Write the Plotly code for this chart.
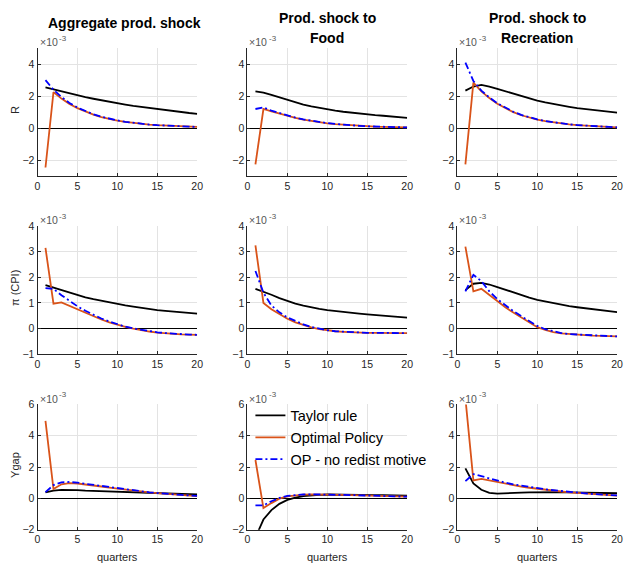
import plotly.graph_objects as go

# ---------------- data (values in units of 1e-3) ----------------
quarters = list(range(1, 21))
shock_titles = [["Aggregate prod. shock"], ["Prod. shock to", "Food"], ["Prod. shock to", "Recreation"]]
var_labels = ["R", "π (CPI)", "Ygap"]
series_names = ["Taylor rule", "Optimal Policy", "OP - no redist motive"]
x_ticks = [0, 5, 10, 15, 20]
row_ranges = [[-3, 5], [-1, 4], [-2, 6]]
row_ticks = [[-2, 0, 2, 4], [-1, 0, 1, 2, 3, 4], [-2, 0, 2, 4, 6]]

# Row 1: R
R_agg_taylor = [2.55, 2.42, 2.29, 2.17, 2.05, 1.94, 1.84, 1.74, 1.65, 1.56, 1.48, 1.40, 1.33, 1.26, 1.19, 1.13, 1.07, 1.01, 0.95, 0.90]
R_agg_opt = [-2.45, 2.25, 1.85, 1.52, 1.25, 1.03, 0.85, 0.70, 0.58, 0.48, 0.40, 0.33, 0.27, 0.23, 0.19, 0.16, 0.13, 0.11, 0.09, 0.08]
R_agg_nored = [3.0, 2.4, 1.95, 1.58, 1.29, 1.06, 0.87, 0.72, 0.59, 0.49, 0.40, 0.33, 0.28, 0.23, 0.19, 0.16, 0.13, 0.11, 0.09, 0.08]

R_food_taylor = [2.3, 2.22, 2.08, 1.92, 1.75, 1.6, 1.47, 1.36, 1.26, 1.17, 1.1, 1.03, 0.97, 0.92, 0.87, 0.82, 0.78, 0.74, 0.7, 0.65]
R_food_opt = [-2.25, 1.2, 1.05, 0.9, 0.76, 0.64, 0.54, 0.45, 0.37, 0.31, 0.26, 0.22, 0.18, 0.15, 0.12, 0.10, 0.08, 0.07, 0.06, 0.05]
R_food_nored = [1.2, 1.3, 1.1, 0.94, 0.79, 0.66, 0.55, 0.46, 0.38, 0.32, 0.27, 0.22, 0.18, 0.15, 0.12, 0.10, 0.08, 0.07, 0.06, 0.05]

R_rec_taylor = [2.35, 2.6, 2.7, 2.6, 2.45, 2.3, 2.15, 2.0, 1.86, 1.73, 1.61, 1.51, 1.42, 1.34, 1.26, 1.2, 1.14, 1.08, 1.03, 0.98]
R_rec_opt = [-2.25, 2.85, 2.3, 1.88, 1.53, 1.24, 1.0, 0.81, 0.66, 0.54, 0.44, 0.36, 0.29, 0.24, 0.19, 0.16, 0.13, 0.1, 0.08, 0.06]
R_rec_nored = [4.1, 2.95, 2.35, 1.92, 1.56, 1.27, 1.03, 0.83, 0.68, 0.55, 0.45, 0.37, 0.3, 0.24, 0.2, 0.16, 0.13, 0.1, 0.08, 0.06]

# Row 2: pi (CPI)
pi_agg_taylor = [1.7, 1.6, 1.5, 1.4, 1.3, 1.22, 1.15, 1.08, 1.01, 0.95, 0.9, 0.85, 0.8, 0.76, 0.72, 0.69, 0.66, 0.63, 0.61, 0.58]
pi_agg_opt = [3.15, 0.97, 1.02, 0.88, 0.74, 0.6, 0.47, 0.35, 0.24, 0.14, 0.06, -0.01, -0.07, -0.12, -0.16, -0.19, -0.21, -0.23, -0.24, -0.25]
pi_agg_nored = [1.58, 1.55, 1.3, 1.07, 0.87, 0.69, 0.53, 0.39, 0.27, 0.16, 0.07, 0.0, -0.06, -0.11, -0.15, -0.18, -0.21, -0.23, -0.24, -0.25]

pi_food_taylor = [1.55, 1.45, 1.32, 1.19, 1.07, 0.97, 0.89, 0.82, 0.77, 0.72, 0.68, 0.64, 0.61, 0.58, 0.55, 0.52, 0.5, 0.47, 0.45, 0.42]
pi_food_opt = [3.25, 1.0, 0.75, 0.55, 0.38, 0.24, 0.13, 0.04, -0.03, -0.08, -0.11, -0.13, -0.15, -0.16, -0.17, -0.17, -0.18, -0.18, -0.18, -0.18]
pi_food_nored = [2.25, 1.4, 0.9, 0.63, 0.43, 0.28, 0.16, 0.06, -0.02, -0.07, -0.11, -0.13, -0.15, -0.16, -0.17, -0.17, -0.18, -0.18, -0.18, -0.18]

pi_rec_taylor = [1.5, 1.75, 1.78, 1.72, 1.62, 1.51, 1.4, 1.3, 1.21, 1.12, 1.05, 0.98, 0.92, 0.87, 0.83, 0.79, 0.75, 0.71, 0.67, 0.64]
pi_rec_opt = [3.2, 1.45, 1.55, 1.3, 1.06, 0.83, 0.62, 0.43, 0.23, 0.05, -0.06, -0.14, -0.19, -0.22, -0.24, -0.26, -0.28, -0.29, -0.3, -0.31]
pi_rec_nored = [1.45, 2.1, 1.85, 1.45, 1.15, 0.9, 0.68, 0.48, 0.28, 0.1, -0.03, -0.12, -0.18, -0.22, -0.24, -0.26, -0.28, -0.29, -0.3, -0.31]

# Row 3: Ygap
y_agg_taylor = [0.38, 0.5, 0.55, 0.55, 0.53, 0.5, 0.48, 0.46, 0.44, 0.42, 0.4, 0.38, 0.36, 0.34, 0.32, 0.31, 0.29, 0.28, 0.27, 0.25]
y_agg_opt = [4.95, 0.6, 0.9, 0.97, 0.95, 0.9, 0.83, 0.76, 0.69, 0.62, 0.55, 0.49, 0.43, 0.38, 0.33, 0.29, 0.25, 0.21, 0.18, 0.15]
y_agg_nored = [0.4, 0.85, 1.02, 1.05, 1.0, 0.93, 0.86, 0.78, 0.71, 0.64, 0.57, 0.5, 0.44, 0.39, 0.34, 0.29, 0.25, 0.22, 0.19, 0.16]

y_food_taylor = [-2.5, -1.35, -0.75, -0.35, -0.1, 0.05, 0.15, 0.2, 0.23, 0.25, 0.25, 0.25, 0.24, 0.23, 0.22, 0.21, 0.2, 0.19, 0.18, 0.17]
y_food_opt = [2.45, -0.62, -0.3, -0.02, 0.13, 0.2, 0.24, 0.26, 0.26, 0.25, 0.24, 0.22, 0.21, 0.19, 0.17, 0.16, 0.14, 0.13, 0.12, 0.11]
y_food_nored = [-0.45, -0.45, -0.18, 0.03, 0.16, 0.22, 0.25, 0.26, 0.26, 0.25, 0.24, 0.22, 0.21, 0.19, 0.17, 0.16, 0.14, 0.13, 0.12, 0.11]

y_rec_taylor = [1.92, 0.95, 0.55, 0.35, 0.3, 0.31, 0.34, 0.37, 0.39, 0.4, 0.41, 0.41, 0.4, 0.39, 0.38, 0.37, 0.36, 0.35, 0.34, 0.33]
y_rec_opt = [6.4, 1.15, 1.25, 1.15, 1.02, 0.92, 0.83, 0.75, 0.68, 0.61, 0.55, 0.49, 0.44, 0.39, 0.35, 0.31, 0.27, 0.24, 0.21, 0.18]
y_rec_nored = [1.1, 1.55, 1.42, 1.27, 1.13, 1.0, 0.9, 0.81, 0.72, 0.65, 0.58, 0.52, 0.46, 0.41, 0.36, 0.32, 0.28, 0.25, 0.22, 0.19]

panels = [
    [(R_agg_taylor, R_agg_opt, R_agg_nored), (R_food_taylor, R_food_opt, R_food_nored), (R_rec_taylor, R_rec_opt, R_rec_nored)],
    [(pi_agg_taylor, pi_agg_opt, pi_agg_nored), (pi_food_taylor, pi_food_opt, pi_food_nored), (pi_rec_taylor, pi_rec_opt, pi_rec_nored)],
    [(y_agg_taylor, y_agg_opt, y_agg_nored), (y_food_taylor, y_food_opt, y_food_nored), (y_rec_taylor, y_rec_opt, y_rec_nored)],
]

# ---------------- layout / styling ----------------
W, H = 630, 569
FONT = "Liberation Sans, Arial, Helvetica, sans-serif"
AX = "#262626"
GRID = "#e3e3e3"
col_px = [(35, 197), (248, 410), (461, 623)]
row_px = [(43, 174), (225, 355.5), (407, 535)]
title_cx = [123, 329, 542]
line_styles = [
    dict(color="#000000", width=1.8),
    dict(color="#D95319", width=1.8),
    dict(color="#0000FF", width=1.8, dash="7px,3px,2px,3px"),
]

fig = go.Figure()
layout = dict(
    width=W, height=H, margin=dict(l=0, r=0, t=0, b=0),
    paper_bgcolor="white", plot_bgcolor="white",
    font=dict(family=FONT, size=10, color=AX),
    showlegend=True,
    legend=dict(x=251 / W, y=1 - 402 / H, xanchor="left", yanchor="top",
                bgcolor="rgba(0,0,0,0)", borderwidth=0, font=dict(size=14.5, color="#000000"),
                tracegroupgap=0),
)
annotations = []

for r in range(3):
    for c in range(3):
        k = r * 3 + c + 1
        xa = "xaxis" if k == 1 else f"xaxis{k}"
        ya = "yaxis" if k == 1 else f"yaxis{k}"
        xr = "x" if k == 1 else f"x{k}"
        yr = "y" if k == 1 else f"y{k}"
        x0, x1 = col_px[c]
        y0, y1 = row_px[r]
        layout[xa] = dict(
            domain=[x0 / W, x1 / W], anchor=yr, range=[0, 20],
            tickvals=x_ticks, showgrid=True, gridcolor=GRID, gridwidth=1,
            showline=True, linecolor=AX, linewidth=1, mirror=False,
            ticks="inside", ticklen=3, tickcolor=AX, zeroline=False,
            tickfont=dict(size=10.5, color=AX),
        )
        layout[ya] = dict(
            domain=[1 - y1 / H, 1 - y0 / H], anchor=xr, range=row_ranges[r],
            tickvals=row_ticks[r], showgrid=True, gridcolor=GRID, gridwidth=1,
            showline=True, linecolor=AX, linewidth=1, mirror=False,
            ticks="inside", ticklen=3, tickcolor=AX,
            zeroline=True, zerolinecolor="#000000", zerolinewidth=1.2,
            tickfont=dict(size=10.5, color=AX),
        )
        for s in range(3):
            fig.add_trace(go.Scatter(
                x=quarters, y=panels[r][c][s], mode="lines",
                line=line_styles[s], name=series_names[s],
                showlegend=(r == 2 and c == 1), xaxis=xr, yaxis=yr,
                hoverinfo="skip",
            ))
        # exponent label  (x10^-3)
        annotations.append(dict(
            text="×10", xref="paper", yref="paper",
            x=x0 / W, y=1 - (y0 - 6) / H, xanchor="left", yanchor="middle",
            showarrow=False, font=dict(size=10.5, color="#555555"),
        ))
        annotations.append(dict(
            text="-3", xref="paper", yref="paper",
            x=(x0 + 19.5) / W, y=1 - (y0 - 10) / H, xanchor="left", yanchor="middle",
            showarrow=False, font=dict(size=8, color="#555555"),
        ))
        if r == 2:
            annotations.append(dict(
                text="quarters", xref="paper", yref="paper",
                x=(x0 + x1) / 2 / W, y=1 - 563 / H, xanchor="center", yanchor="middle",
                showarrow=False, font=dict(size=11, color=AX),
            ))
    # row label
    y0, y1 = row_px[r]
    annotations.append(dict(
        text=var_labels[r], xref="paper", yref="paper",
        x=12 / W, y=1 - ((y0 + y1) / 2 - 2) / H, xanchor="center", yanchor="middle",
        textangle=-90, showarrow=False, font=dict(size=11, color=AX),
    ))

# column titles
for c in range(3):
    lines = shock_titles[c]
    ys = [17] if len(lines) == 1 else [12, 33]
    for txt, yy in zip(lines, ys):
        annotations.append(dict(
            text=f"<b>{txt}</b>", xref="paper", yref="paper",
            x=title_cx[c] / W, y=1 - yy / H, xanchor="center", yanchor="middle",
            showarrow=False, font=dict(size=14, color="#000000"),
        ))

layout["annotations"] = annotations
fig.update_layout(**layout)
fig.write_html("out.html")
